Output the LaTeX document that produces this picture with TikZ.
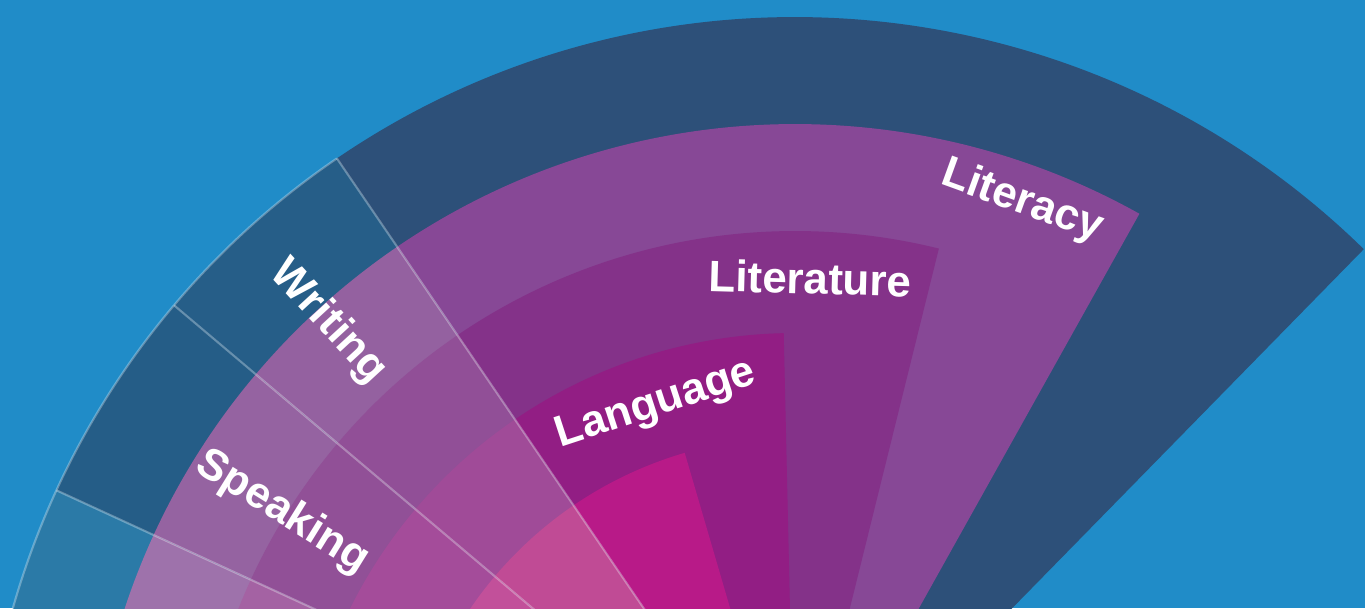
\documentclass[tikz,border=0pt]{standalone}
\usepackage{fontspec}
\setmainfont{Liberation Sans}
\usetikzlibrary{calc}
\definecolor{bgblue}{HTML}{208CC8}
\definecolor{navy}{HTML}{2D5079}
\definecolor{litcy}{HTML}{874896}
\definecolor{litre}{HTML}{843289}
\definecolor{lang}{HTML}{921E84}
\definecolor{core}{HTML}{B81A88}
% tinted slices on the left
\definecolor{wOuter}{HTML}{265E88}
\definecolor{wLitcy}{HTML}{9461A0}
\definecolor{wLitre}{HTML}{914F97}
\definecolor{wLang}{HTML}{A04B98}
\definecolor{wCore}{HTML}{C04B95}
\definecolor{sOuter}{HTML}{255D87}
\definecolor{sLitcy}{HTML}{9563A1}
\definecolor{sLitre}{HTML}{915097}
\definecolor{sLang}{HTML}{A44C9A}
\definecolor{sCore}{HTML}{C2509A}
\definecolor{lOuter}{HTML}{2B7AA7}
\definecolor{lLitcy}{HTML}{9E72AB}
\definecolor{lLitre}{HTML}{A462A3}
\definecolor{lLang}{HTML}{AE5AA2}
\definecolor{lCore}{HTML}{C860A2}
\def\Rout{813}
\def\Rlitcy{706}
\def\Rlitre{599}
\def\Rlang{497}
\def\Rcore{393}
\def\Slice#1#2#3#4{%
 \fill[#4] (Center) -- ++(#1:#3) arc[start angle=#1, end angle=#2, radius=#3] -- cycle;
}
\def\Wedge#1#2#3#4#5#6#7{%
 \Slice{#1}{#2}{\Rout}{#3}
 \Slice{#1}{#2}{\Rlitcy}{#4}
 \Slice{#1}{#2}{\Rlitre}{#5}
 \Slice{#1}{#2}{\Rlang}{#6}
 \Slice{#1}{#2}{\Rcore}{#7}
}

\begin{document}
\begin{tikzpicture}[x=0.01cm, y=0.01cm,
  sepline/.style={draw=white, opacity=0.3, line width=0.6pt},
  lbl/.style={text=white, inner sep=0pt, font=\fontsize{12.5}{15}\selectfont\bfseries}]
\useasboundingbox (0,0) rectangle (1365,-608);
\clip (0,0) rectangle (1365,-608);
\fill[bgblue] (0,0) rectangle (1365,-608);
\coordinate (Center) at (795,-830);

% main slice, staggered ends
\Slice{45.6}{124.3}{\Rout}{navy}
\Slice{60.8}{124.3}{\Rlitcy}{litcy}
\Slice{76.1}{124.3}{\Rlitre}{litre}
\Slice{91.3}{124.3}{\Rlang}{lang}
\Slice{106.3}{124.3}{\Rcore}{core}

% left slices
\Wedge{124.3}{139.8}{wOuter}{wLitcy}{wLitre}{wLang}{wCore}
\Wedge{139.8}{155.3}{sOuter}{sLitcy}{sLitre}{sLang}{sCore}
\Wedge{155.3}{190}{lOuter}{lLitcy}{lLitre}{lLang}{lCore}

\foreach \a in {124.3,139.8,155.3}
  \draw[sepline] (Center) -- ++(\a:\Rout);
\draw[sepline] (Center) ++(124.3:\Rout) arc[start angle=124.3, end angle=190, radius=\Rout];

\node[lbl, rotate=-19.9] (literacy) at ($(Center)+(70.1:668)$) {Literacy};
\node[lbl, rotate=-1.6] (literature) at ($(Center)+(88.4:552)$) {Literature};
\node[lbl, rotate=18.1] (language) at ($(Center)+(108.1:447)$) {Language};
\node[lbl, rotate=-47.4] (writing) at ($(Center)+(132.6:690)$) {Writing};
\node[lbl, rotate=-31.8] (speaking) at ($(Center)+(148.2:603)$) {Speaking};
\end{tikzpicture}
\end{document}
